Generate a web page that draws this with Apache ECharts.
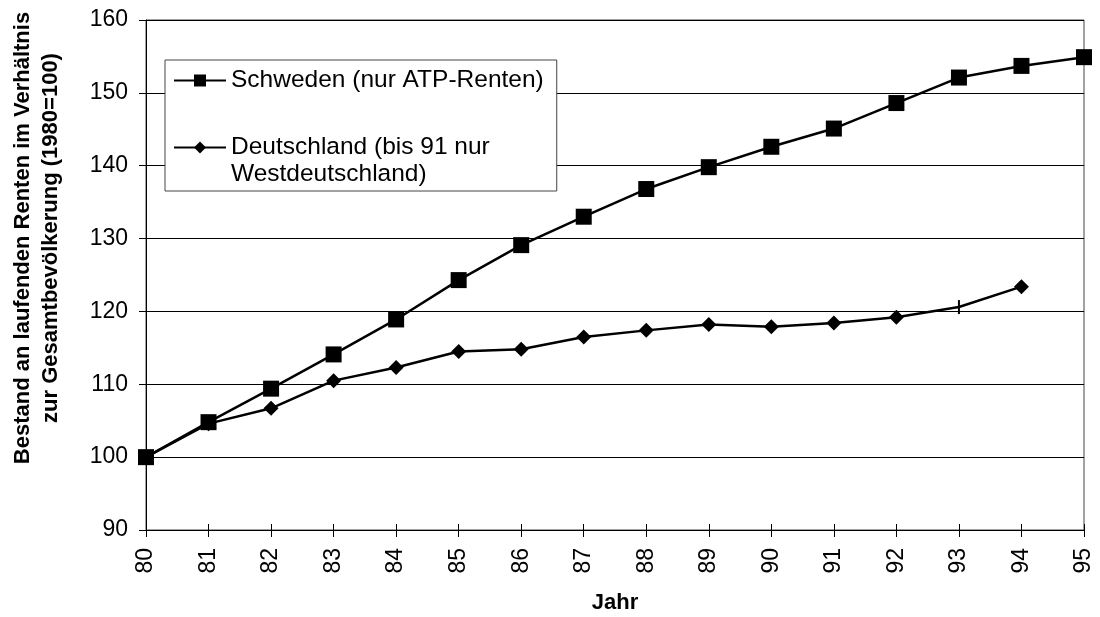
<!DOCTYPE html>
<html><head><meta charset="utf-8">
<script src="https://cdn.jsdelivr.net/npm/echarts@6/dist/echarts.min.js"></script>
<style>html,body{margin:0;padding:0;background:#fff}#c{width:1100px;height:617px}</style>
</head><body><div id="c"></div>
<script>
const years = ['80','81','82','83','84','85','86','87','88','89','90','91','92','93','94','95'];
const schweden = [100, 104.8, 109.4, 114.1, 118.9, 124.3, 129.1, 133.0, 136.8, 139.8, 142.6, 145.1, 148.6, 152.1, 153.7, 154.9];
const deutschland = [100, 104.6, 106.7, 110.5, 112.3, 114.5, 114.8, 116.5, 117.4, 118.2, 117.9, 118.4, 119.2, 120.6, 123.4, null];
const yTicks = [90, 100, 110, 120, 130, 140, 150, 160];
const nameSE = 'Schweden (nur ATP-Renten)';
const nameDE = 'Deutschland (bis 91 nur\nWestdeutschland)';
const yTitle = 'Bestand an laufenden Renten im Verhältnis\nzur Gesamtbevölkerung (1980=100)';

const font = 'Arial, "Liberation Sans", sans-serif';
const chart = echarts.init(document.getElementById('c'));
const deData = deutschland.map((v, i) => i === 13 ? {value: v, symbol: 'rect', symbolSize: [2, 14]} : v);
chart.setOption({
  animation: false,
  backgroundColor: '#fff',
  grid: {left: 146, right: 16, top: 20, bottom: 87, show: true, borderColor: '#444', borderWidth: 1,
         containLabel: false, outerBoundsMode: 'none'},
  legend: {
    orient: 'vertical', left: 165, top: 60,
    backgroundColor: '#fff', borderColor: '#444', borderWidth: 1,
    padding: [7, 13, 30, 8], itemGap: 40, itemWidth: 52, itemHeight: 15,
    textStyle: {fontFamily: font, fontSize: 24.5, color: '#000', lineHeight: 27},
    formatter: n => n.split('\n')[0],
    data: [{name: nameSE}, {name: nameDE}]
  },
  graphic: [{
    type: 'text', x: 37, y: 238, rotation: Math.PI / 2,
    style: {text: yTitle, fontFamily: font, fontSize: 22, fontWeight: 'bold', fill: '#000',
            align: 'center', verticalAlign: 'middle', lineHeight: 28}
  }, {
    type: 'text', x: 231, y: 174, z: 100,
    style: {text: nameDE.split('\n')[1], fontFamily: font, fontSize: 24.5, fill: '#000',
            align: 'left', verticalAlign: 'middle'}
  }],
  xAxis: [{
    type: 'category', data: years, boundaryGap: false,
    name: 'Jahr', nameLocation: 'middle', nameGap: 62,
    nameTextStyle: {fontFamily: font, fontSize: 22, fontWeight: 'bold', color: '#000'},
    axisLine: {lineStyle: {color: '#000', width: 1}},
    axisTick: {show: true, length: 7, lineStyle: {color: '#000'}},
    axisLabel: {rotate: 90, fontFamily: font, fontSize: 23, color: '#000', margin: 18},
    splitLine: {show: false}
  }, {
    type: 'category', data: years, boundaryGap: false, position: 'bottom',
    axisLine: {show: false},
    axisTick: {show: true, inside: true, length: 6, lineStyle: {color: '#000'}},
    axisLabel: {show: false}, splitLine: {show: false}
  }],
  yAxis: {
    type: 'value', min: 90, max: 160, interval: 10,
    axisLine: {show: true, lineStyle: {color: '#000', width: 1}},
    axisTick: {show: true, length: 7, lineStyle: {color: '#000'}},
    axisLabel: {fontFamily: font, fontSize: 23, color: '#000', margin: 18,
      formatter: v => yTicks.includes(v) ? String(v) : ''},
    splitLine: {show: true, lineStyle: {color: '#000', width: 1}}
  },
  series: [{
    name: nameSE, type: 'line', data: schweden,
    symbol: 'rect', symbolSize: 16, showAllSymbol: true,
    lineStyle: {color: '#000', width: 2.5}, itemStyle: {color: '#000'}, z: 3
  }, {
    name: nameDE, type: 'line', data: deData,
    symbol: 'diamond', symbolSize: 15, showAllSymbol: true,
    lineStyle: {color: '#000', width: 2.5}, itemStyle: {color: '#000'}, z: 3
  }]
});
</script></body></html>
